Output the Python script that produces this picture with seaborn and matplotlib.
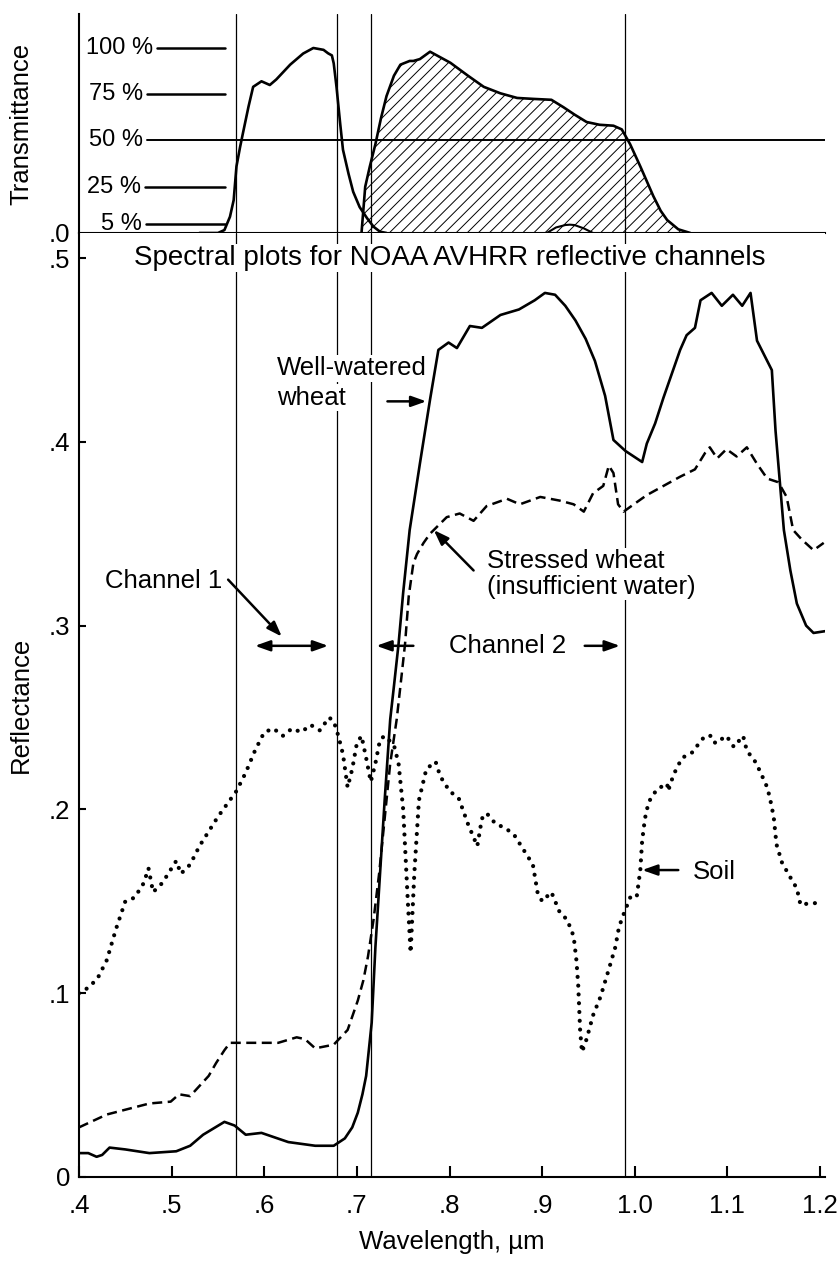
import matplotlib
matplotlib.use('Agg')
import matplotlib.pyplot as plt
import seaborn as sns

# transmittance, channel 1 (open curve) and channel 2 (hatched)
ch1_wl = [0.530, 0.550, 0.557, 0.563, 0.567, 0.570, 0.574, 0.577, 0.583, 0.588,
          0.597, 0.606, 0.613, 0.628, 0.642, 0.653, 0.664, 0.669, 0.673, 0.675,
          0.678, 0.682, 0.685, 0.691, 0.696, 0.703, 0.711, 0.718, 0.725, 0.732]
ch1_T = [0.0, 0.0, 0.016, 0.088, 0.178, 0.36, 0.467, 0.54, 0.683, 0.79,
         0.82, 0.80, 0.83, 0.91, 0.97, 1.0, 0.99, 0.971, 0.96, 0.917,
         0.79, 0.59, 0.45, 0.32, 0.223, 0.14, 0.08, 0.034, 0.007, 0.0]

ch2_wl = [0.705, 0.709, 0.714, 0.720, 0.726, 0.732, 0.740, 0.747, 0.757, 0.761,
          0.768, 0.779, 0.790, 0.801, 0.820, 0.837, 0.855, 0.873, 0.890, 0.910,
          0.923, 0.935, 0.948, 0.962, 0.977, 0.986, 0.995, 1.006, 1.013, 1.020,
          1.028, 1.035, 1.047, 1.060]
ch2_T = [0.0, 0.25, 0.36, 0.48, 0.62, 0.74, 0.85, 0.91, 0.93, 0.93,
         0.94, 0.98, 0.95, 0.92, 0.85, 0.79, 0.755, 0.73, 0.725, 0.72,
         0.68, 0.64, 0.60, 0.585, 0.58, 0.56, 0.48, 0.36, 0.28, 0.20,
         0.12, 0.07, 0.02, 0.0]

bump_wl = [0.905, 0.915, 0.925, 0.930, 0.935, 0.945, 0.955]
bump_T = [0.0, 0.03, 0.043, 0.045, 0.043, 0.025, 0.0]

pct_levels = [1.0, 0.75, 0.5, 0.25, 0.05]
pct_labels = ['100 %', '75 %', '50 %', '25 %', '5 %']

# reflectance
wheat_wl = [0.400, 0.410, 0.419, 0.425, 0.433, 0.450, 0.476, 0.505, 0.520, 0.534,
            0.557, 0.568, 0.580, 0.597, 0.626, 0.655, 0.675, 0.687, 0.695, 0.701,
            0.706, 0.710, 0.716, 0.720, 0.725, 0.730, 0.736, 0.740, 0.745, 0.750,
            0.757, 0.768, 0.779, 0.788, 0.799, 0.808, 0.822, 0.835, 0.855, 0.875,
            0.892, 0.903, 0.914, 0.925, 0.936, 0.947, 0.957, 0.968, 0.977, 0.990,
            1.008, 1.013, 1.022, 1.031, 1.040, 1.049, 1.056, 1.065, 1.071, 1.083,
            1.094, 1.106, 1.116, 1.125, 1.132, 1.143, 1.148, 1.152, 1.161, 1.168,
            1.175, 1.185, 1.193, 1.206]
wheat_R = [0.013, 0.013, 0.011, 0.012, 0.016, 0.015, 0.013, 0.014, 0.017, 0.023,
           0.030, 0.028, 0.023, 0.024, 0.019, 0.017, 0.017, 0.021, 0.027, 0.035,
           0.045, 0.055, 0.084, 0.125, 0.165, 0.205, 0.249, 0.267, 0.290, 0.318,
           0.352, 0.388, 0.423, 0.450, 0.454, 0.451, 0.463, 0.462, 0.469, 0.472,
           0.477, 0.481, 0.480, 0.474, 0.466, 0.456, 0.444, 0.425, 0.401, 0.395,
           0.389, 0.399, 0.410, 0.424, 0.437, 0.450, 0.458, 0.462, 0.477, 0.481,
           0.474, 0.480, 0.474, 0.481, 0.455, 0.444, 0.439, 0.406, 0.352, 0.330,
           0.312, 0.300, 0.296, 0.297]

stress_wl = [0.400, 0.430, 0.476, 0.499, 0.508, 0.520, 0.540, 0.548, 0.557, 0.563,
             0.580, 0.615, 0.635, 0.644, 0.655, 0.675, 0.690, 0.701, 0.707, 0.712,
             0.718, 0.724, 0.730, 0.736, 0.743, 0.747, 0.752, 0.756, 0.761, 0.765,
             0.772, 0.779, 0.783, 0.797, 0.811, 0.826, 0.840, 0.862, 0.876, 0.898,
             0.919, 0.934, 0.945, 0.955, 0.966, 0.972, 0.977, 0.982, 0.988, 0.999,
             1.013, 1.031, 1.049, 1.065, 1.076, 1.081, 1.089, 1.099, 1.110, 1.121,
             1.132, 1.143, 1.155, 1.164, 1.171, 1.180, 1.193, 1.204]
stress_R = [0.027, 0.034, 0.040, 0.041, 0.045, 0.044, 0.055, 0.062, 0.069, 0.073,
            0.073, 0.073, 0.076, 0.075, 0.070, 0.072, 0.080, 0.096, 0.107, 0.120,
            0.140, 0.165, 0.195, 0.225, 0.249, 0.267, 0.290, 0.316, 0.334, 0.339,
            0.345, 0.350, 0.352, 0.359, 0.361, 0.357, 0.365, 0.369, 0.366, 0.370,
            0.368, 0.366, 0.362, 0.372, 0.376, 0.387, 0.383, 0.366, 0.362, 0.366,
            0.371, 0.376, 0.381, 0.385, 0.394, 0.397, 0.391, 0.396, 0.392, 0.397,
            0.388, 0.380, 0.378, 0.370, 0.352, 0.347, 0.341, 0.345]

soil_wl = [0.400, 0.410, 0.420, 0.430, 0.440, 0.450, 0.460, 0.470, 0.475, 0.480,
           0.490, 0.500, 0.505, 0.510, 0.520, 0.530, 0.540, 0.550, 0.560, 0.570,
           0.580, 0.590, 0.600, 0.610, 0.620, 0.630, 0.640, 0.650, 0.660, 0.670,
           0.675, 0.680, 0.685, 0.690, 0.695, 0.700, 0.705, 0.710, 0.715, 0.720,
           0.725, 0.730, 0.740, 0.745, 0.750, 0.755, 0.758, 0.762, 0.767, 0.775,
           0.785, 0.790, 0.800, 0.810, 0.820, 0.830, 0.835, 0.840, 0.850, 0.860,
           0.870, 0.880, 0.890, 0.895, 0.900, 0.910, 0.919, 0.927, 0.934, 0.937,
           0.939, 0.941, 0.943, 0.948, 0.955, 0.963, 0.972, 0.979, 0.983, 0.988,
           0.995, 1.002, 1.006, 1.008, 1.011, 1.015, 1.024, 1.035, 1.036, 1.042,
           1.051, 1.062, 1.071, 1.076, 1.083, 1.087, 1.099, 1.107, 1.117, 1.121,
           1.130, 1.135, 1.143, 1.146, 1.150, 1.153, 1.159, 1.168, 1.175, 1.179,
           1.189, 1.198]
soil_R = [0.100, 0.103, 0.108, 0.118, 0.135, 0.150, 0.152, 0.160, 0.168, 0.155,
          0.160, 0.168, 0.172, 0.165, 0.170, 0.180, 0.188, 0.196, 0.203, 0.210,
          0.220, 0.232, 0.242, 0.244, 0.240, 0.244, 0.242, 0.246, 0.243, 0.250,
          0.248, 0.240, 0.230, 0.212, 0.222, 0.236, 0.240, 0.228, 0.215, 0.225,
          0.238, 0.240, 0.235, 0.225, 0.200, 0.150, 0.122, 0.165, 0.205, 0.222,
          0.226, 0.218, 0.210, 0.206, 0.192, 0.180, 0.195, 0.198, 0.192, 0.190,
          0.186, 0.178, 0.170, 0.155, 0.150, 0.155, 0.144, 0.140, 0.131, 0.118,
          0.104, 0.080, 0.068, 0.075, 0.088, 0.098, 0.113, 0.125, 0.136, 0.143,
          0.152, 0.152, 0.167, 0.183, 0.195, 0.204, 0.211, 0.214, 0.210, 0.219,
          0.228, 0.231, 0.237, 0.240, 0.240, 0.236, 0.240, 0.234, 0.240, 0.232,
          0.226, 0.221, 0.212, 0.206, 0.196, 0.181, 0.171, 0.163, 0.157, 0.148,
          0.149, 0.149]

channel_edges = [0.570, 0.679, 0.715, 0.989]
x_ticks = [0.4, 0.5, 0.6, 0.7, 0.8, 0.9, 1.0, 1.1, 1.2]
x_ticklabels = ['.4', '.5', '.6', '.7', '.8', '.9', '1.0', '1.1', '1.2']
y_ticks = [0, 0.1, 0.2, 0.3, 0.4, 0.5]
y_ticklabels = ['0', '.1', '.2', '.3', '.4', '.5']

sns.set_theme(style='white')
plt.rcParams['font.family'] = ['Liberation Sans', 'DejaVu Sans']
plt.rcParams.update({'text.color': 'black', 'axes.labelcolor': 'black',
                     'xtick.color': 'black', 'ytick.color': 'black',
                     'hatch.linewidth': 0.7})
FS = 18.5

fig = plt.figure(figsize=(8.38, 12.62), dpi=100)
ax_t = fig.add_axes([79 / 838, 1 - 233 / 1262, 746 / 838, 219 / 1262])
ax_r = fig.add_axes([79 / 838, 1 - 1177 / 1262, 746 / 838, 944 / 1262])
XMAX = 0.4 + 746 / 926.25

# ---- transmittance panel
ax_t.fill_between(ch2_wl, ch2_T, 0, facecolor='none', edgecolor='black',
                  hatch='///', linewidth=0)
sns.lineplot(x=ch2_wl, y=ch2_T, ax=ax_t, color='black', lw=1.9, estimator=None)
sns.lineplot(x=ch1_wl, y=ch1_T, ax=ax_t, color='black', lw=1.9, estimator=None)
sns.lineplot(x=bump_wl, y=bump_T, ax=ax_t, color='black', lw=1.5, estimator=None)

line_start = [0.4842, 0.4734, 0.4734, 0.4713, 0.4723]
for lev, lab, x0 in zip(pct_levels, pct_labels, line_start):
    x1 = XMAX if lev == 0.5 else 0.5577
    ax_t.plot([x0, x1], [lev, lev], color='black', lw=1.4 if lev == 0.5 else 1.8)
    ax_t.text(x0 - 0.004, lev, lab, ha='right', va='center', fontsize=17)

for x in channel_edges:
    ax_t.axvline(x, color='black', lw=0.9)

ax_t.set_xlim(0.4, XMAX)
ax_t.set_ylim(0, 219 / 185)
ax_t.set_xticks([])
ax_t.set_yticks([0])
ax_t.set_yticklabels(['.0'])
ax_t.tick_params(axis='y', length=0, pad=6.5, labelsize=FS)
ax_t.set_ylabel('Transmittance', fontsize=FS, labelpad=11)
for s in ['top', 'right']:
    ax_t.spines[s].set_visible(False)
for s in ['left', 'bottom']:
    ax_t.spines[s].set_color('black')
    ax_t.spines[s].set_linewidth(1.5)

# ---- reflectance panel
for x in channel_edges:
    ax_r.axvline(x, color='black', lw=0.9, zorder=1)

sns.lineplot(x=wheat_wl, y=wheat_R, ax=ax_r, color='black', lw=1.9, estimator=None)
sns.lineplot(x=stress_wl, y=stress_R, ax=ax_r, color='black', lw=1.8,
             estimator=None, linestyle=(0, (4, 2.2)))
sns.lineplot(x=soil_wl, y=soil_R, ax=ax_r, color='black', lw=3.0,
             estimator=None, linestyle=(0, (0.01, 2.1)), dash_capstyle='round')

box = dict(facecolor='white', edgecolor='none', pad=1)
ax_r.text(0.8006, 0.5, 'Spectral plots for NOAA AVHRR reflective channels',
          ha='center', va='center', fontsize=20, bbox=box, zorder=5)

arrow = dict(arrowstyle='-|>,head_length=0.45,head_width=0.16', color='black',
             lw=1.8, shrinkA=0, shrinkB=0, mutation_scale=20)
arrow2 = dict(arrow, arrowstyle='<|-|>,head_length=0.45,head_width=0.16')

def note(text, x, y, **kw):
    ax_r.text(x, y, text, ha='left', va='center', fontsize=FS, bbox=box,
              zorder=5, **kw)

def pointer(head, tail, style=arrow):
    ax_r.annotate('', xy=head, xytext=tail, arrowprops=style, zorder=6)

note('Channel 1', 0.428, 0.324)
pointer((0.619, 0.294), (0.561, 0.325))
pointer((0.669, 0.289), (0.590, 0.289), arrow2)

note('Well-watered', 0.614, 0.440)
note('wheat', 0.614, 0.424)
pointer((0.775, 0.422), (0.733, 0.422))

note('Stressed wheat\n(insufficient water)', 0.840, 0.328, linespacing=1.1)
pointer((0.783, 0.352), (0.826, 0.330))

note('Channel 2', 0.799, 0.289)
pointer((0.721, 0.289), (0.761, 0.289))
pointer((0.984, 0.289), (0.946, 0.289))

note('Soil', 1.063, 0.166)
pointer((1.008, 0.167), (1.047, 0.167))

ax_r.set_xlim(0.4, XMAX)
ax_r.set_ylim(0, 944 / 1838)
ax_r.set_xticks(x_ticks)
ax_r.set_xticklabels(x_ticklabels)
ax_r.set_yticks(y_ticks)
ax_r.set_yticklabels(y_ticklabels)
ax_r.tick_params(axis='both', direction='in', width=1.5, labelsize=FS,
                 left=True, bottom=True)
ax_r.tick_params(axis='x', length=8, pad=12)
ax_r.tick_params(axis='y', length=5, pad=6.5)
ax_r.set_xlabel('Wavelength, µm', fontsize=FS, labelpad=9)
ax_r.set_ylabel('Reflectance', fontsize=FS, labelpad=11)
for s in ['top', 'right']:
    ax_r.spines[s].set_visible(False)
for s in ['left', 'bottom']:
    ax_r.spines[s].set_color('black')
    ax_r.spines[s].set_linewidth(1.5)

fig.savefig('out.png', dpi=100, facecolor='white')
